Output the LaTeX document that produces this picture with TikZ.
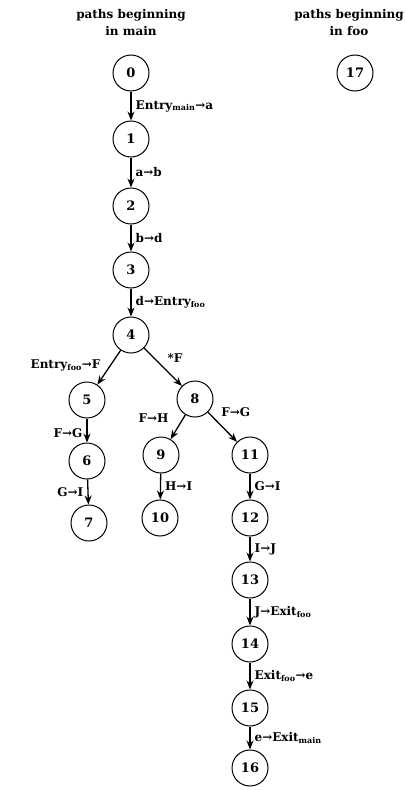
\documentclass[tikz,border=0pt]{standalone}
\usepackage{fontspec}
\setmainfont{DejaVu Serif}
\usetikzlibrary{positioning, arrows.meta}

\begin{document}
\begin{tikzpicture}[x=1pt, y=-1pt,
    pnode/.style={circle, draw, line width=1pt, minimum size=36pt, inner sep=0pt, font=\bfseries\fontsize{13}{15}\selectfont},
    trans/.style={-{Stealth[length=9pt, width=7pt]}, line width=1.3pt},
    lbl/.style={font=\bfseries\fontsize{12}{14}\selectfont, inner sep=4pt},
    hdr/.style={align=center, font=\bfseries\fontsize{12}{17}\selectfont},
]
    \useasboundingbox (0,0) rectangle (406,790);
    \node[hdr] (hmain) at (131,23) {paths beginning\\in main};
    \node[hdr] (hfoo) at (349,23) {paths beginning\\in foo};

    \node[pnode] (n0) at (131,73) {0};
    \node[pnode] (n17) at (355,73) {17};
    \node[pnode] (n1) at (131,139) {1};
    \node[pnode] (n2) at (131,206) {2};
    \node[pnode] (n3) at (131,270) {3};
    \node[pnode] (n4) at (131,335) {4};
    \node[pnode] (n5) at (87,400) {5};
    \node[pnode] (n6) at (87,461) {6};
    \node[pnode] (n7) at (89,523) {7};
    \node[pnode] (n8) at (195,399) {8};
    \node[pnode] (n9) at (161,455) {9};
    \node[pnode] (n10) at (160,518) {10};
    \node[pnode] (n11) at (250,455) {11};
    \node[pnode] (n12) at (250,518) {12};
    \node[pnode] (n13) at (250,580) {13};
    \node[pnode] (n14) at (250,644) {14};
    \node[pnode] (n15) at (250,708) {15};
    \node[pnode] (n16) at (250,768) {16};

    \draw[trans] (n0) -- node[lbl, right] {Entry\textsubscript{main}→a} (n1);
    \draw[trans] (n1) -- node[lbl, right] {a→b} (n2);
    \draw[trans] (n2) -- node[lbl, right] {b→d} (n3);
    \draw[trans] (n3) -- node[lbl, right] {d→Entry\textsubscript{foo}} (n4);
    \draw[trans] (n4) -- node[lbl, left, pos=0.45, xshift=-5pt] {Entry\textsubscript{foo}→F} (n5);
    \draw[trans] (n4) -- node[lbl, above right, pos=0.5] {*F} (n8);
    \draw[trans] (n5) -- node[lbl, left, pos=0.6] {F→G} (n6);
    \draw[trans] (n6) -- node[lbl, left, pos=0.5] {G→I} (n7);
    \draw[trans] (n8) -- node[lbl, left=10pt, pos=0.15] {F→H} (n9);
    \draw[trans] (n8) -- node[lbl, above right, pos=0.3] {F→G} (n11);
    \draw[trans] (n9) -- node[lbl, right] {H→I} (n10);
    \draw[trans] (n11) -- node[lbl, right] {G→I} (n12);
    \draw[trans] (n12) -- node[lbl, right] {I→J} (n13);
    \draw[trans] (n13) -- node[lbl, right] {J→Exit\textsubscript{foo}} (n14);
    \draw[trans] (n14) -- node[lbl, right] {Exit\textsubscript{foo}→e} (n15);
    \draw[trans] (n15) -- node[lbl, right] {e→Exit\textsubscript{main}} (n16);
\end{tikzpicture}
\end{document}
